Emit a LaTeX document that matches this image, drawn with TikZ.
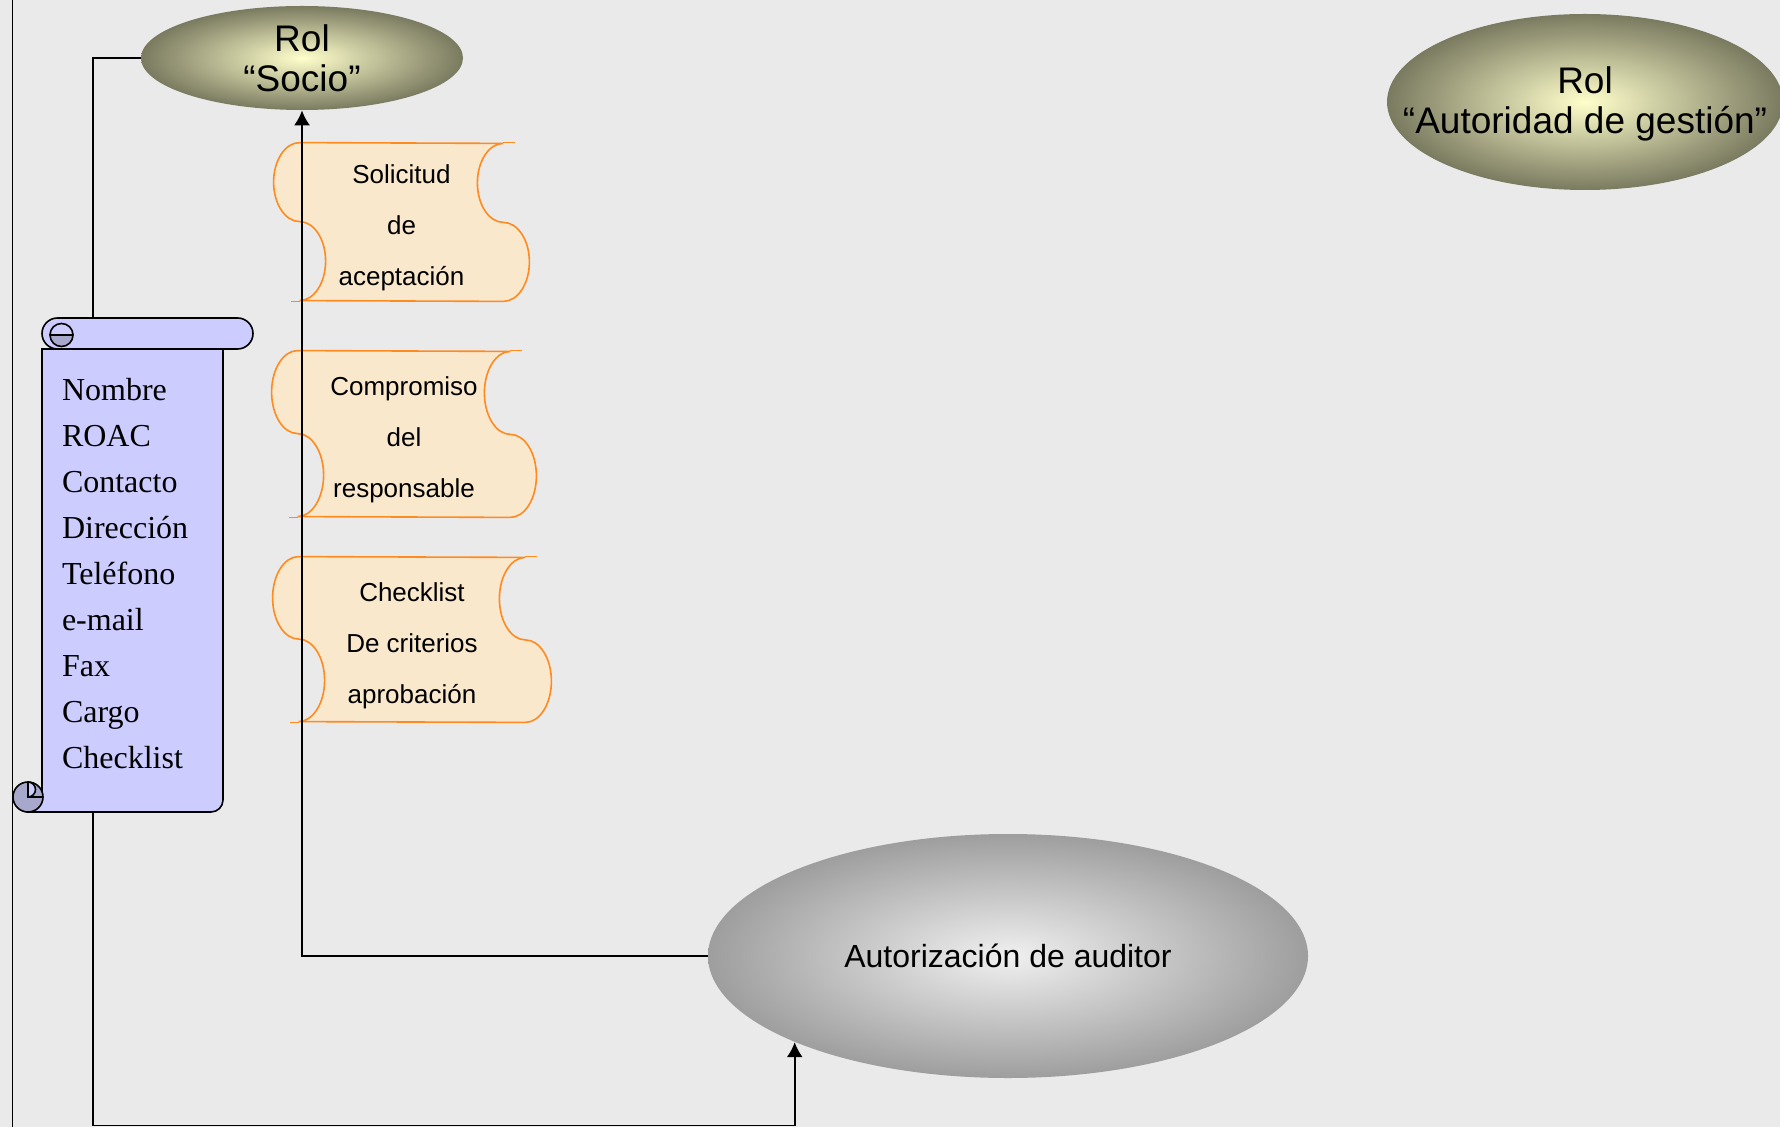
\documentclass[tikz,border=0pt]{standalone}
\usepackage{fontspec}
\setmainfont{Liberation Sans}
\newfontfamily\listfont{Liberation Serif}
\usetikzlibrary{shapes.geometric,arrows.meta,calc}
\definecolor{bggray}{HTML}{EAEAEA}
\definecolor{rolin}{HTML}{FFFFCC}
\definecolor{rolout}{HTML}{7A7A60}
\definecolor{authin}{HTML}{F0F0F0}
\definecolor{authout}{HTML}{9E9E9E}
\definecolor{tapefill}{HTML}{F9E8CB}
\definecolor{tapeedge}{HTML}{FF8A1F}
\definecolor{listlight}{HTML}{CCCCFF}
\definecolor{listdark}{HTML}{A8A8CC}
\pgfdeclarelayer{under}
\pgfsetlayers{under,main}
\tikzset{
    rolnode/.style={ellipse, inner sep=0, shading=radial, inner color=rolin, outer color=rolout},
    authnode/.style={ellipse, inner sep=0, shading=radial, inner color=authin, outer color=authout, font=\fontsize{16}{19}\selectfont},
    roltext/.style={align=center, font=\fontsize{18.5}{20}\selectfont},
    tapenode/.style={inner sep=0},
    tapetext/.style={align=center, yshift=-3pt, font=\fontsize{13}{25.5}\selectfont},
    tapeline/.style={draw=tapeedge, fill=tapefill, line width=0.8pt},
    listnode/.style={inner sep=0, minimum width=90.5pt, minimum height=247pt},
    listtext/.style={inner xsep=10pt, align=left, text width=70.5pt, yshift=-4.5pt, font=\listfont\fontsize{16}{23}\selectfont},
    listline/.style={draw=black, line width=0.8pt},
    link/.style={line width=0.9pt},
    tip/.style={-{Latex[length=7.5pt,width=8pt]}}
}
% outline of a tape node, #2 = quarter of its height
\newcommand{\drawtape}[2]{
    \begin{pgfonlayer}{under}
    \path[tapeline] (#1.north west)
        arc[start angle=270, end angle=90, x radius=26, y radius=#2]
        arc[start angle=-90, end angle=90, x radius=26, y radius=#2]
        -- (#1.south east)
        arc[start angle=90, end angle=-90, x radius=26, y radius=#2]
        arc[start angle=90, end angle=270, x radius=26, y radius=#2] -- cycle;
    \draw[draw=tapeedge, line width=0.8pt] (#1.north east) -- ++(12,0) (#1.south west) -- ++(-9,0);
    \end{pgfonlayer}
}

\begin{document}
\begin{tikzpicture}[x=0.5pt, y=-0.5pt]
    \useasboundingbox (0,0) rectangle (1780,1127);
    \begin{pgfonlayer}{under}
        \fill[bggray] (0,0) rectangle (1780,1127);
    \end{pgfonlayer}
    \draw[link] (12.5,0) -- (12.5,1127);

    % roles
    \node[rolnode, minimum width=161pt, minimum height=52pt,
        label={[roltext]center:Rol\\“Socio”}] (socio) at (302,58) {};
    \node[rolnode, minimum width=198pt, minimum height=88pt,
        label={[roltext, yshift=-1pt]center:Rol\\“Autoridad de gestión”}] (autoridad) at (1585,102) {};
    \node[authnode, minimum width=300pt, minimum height=122pt] (auth) at (1008,956) {Autorización de auditor};

    % documents
    \node[tapenode, minimum width=101.5pt, minimum height=79pt,
        label={[tapetext]center:Solicitud\\de\\aceptación}] (solicitud) at (401.5,222) {};
    \node[tapenode, minimum width=106pt, minimum height=83pt,
        label={[tapetext]center:Compromiso\\del\\responsable}] (compromiso) at (404,434) {};
    \node[tapenode, minimum width=113pt, minimum height=82.5pt,
        label={[tapetext]center:Checklist\\De criterios\\aprobación}] (checklist) at (412,639.5) {};
    \drawtape{solicitud}{39.5}
    \drawtape{compromiso}{41.5}
    \drawtape{checklist}{41.25}

    % scroll with the data fields
    \path[listline, fill=listlight] (28,812) -- (211,812) arc[start angle=90, end angle=0, radius=12]
        -- (223,349) -- (42,349) -- (42,797) -- cycle;
    \path[listline, fill=listlight] (57.5,318) -- (237.5,318) arc[start angle=270, end angle=450, radius=15.5]
        -- (57.5,349) arc[start angle=90, end angle=270, radius=15.5] -- cycle;
    \path[listline, fill=listdark] (50,335) arc[start angle=180, end angle=0, radius=11.5] -- cycle;
    \draw[listline] (50,335) arc[start angle=180, end angle=360, radius=11.5];
    \path[listline, fill=listdark] (28,797) circle[radius=15];
    \path[listline, fill=listlight] (28,782) arc[start angle=270, end angle=450, radius=7.5] -- cycle;
    \draw[listline] (28,797) -- (42,797);
    \node[listnode, label={[listtext]center:Nombre\\ROAC\\Contacto\\Dirección\\Teléfono\\e-mail\\Fax\\Cargo\\Checklist}] (scroll) at (132.5,565) {};

    % connectors
    \draw[link] (socio.west) -| ($(scroll.north west)!0.282!(scroll.north east)$);
    \draw[link, tip] ($(scroll.south west)!0.282!(scroll.south east)$) -- ++(0,313) -| (auth.202);
    \draw[link, tip] (auth.west) -| (socio.south);
\end{tikzpicture}
\end{document}
